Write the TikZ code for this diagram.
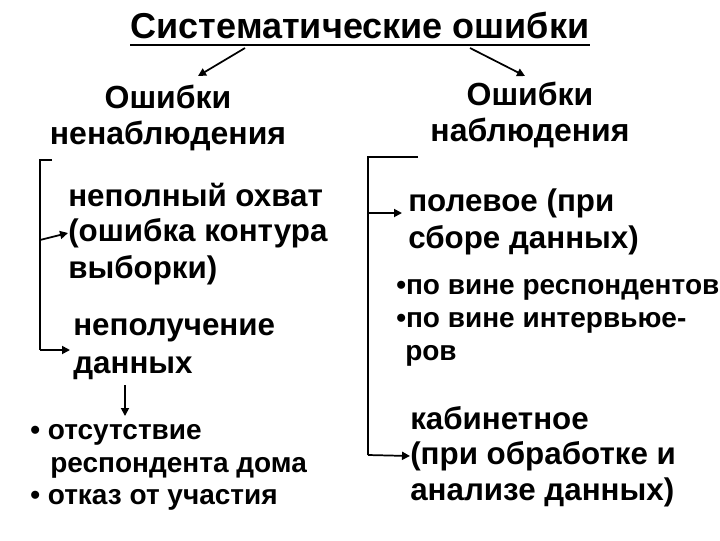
\documentclass[tikz,border=0pt]{standalone}
\usepackage{fontspec}
\setmainfont{Liberation Sans}
\usetikzlibrary{arrows.meta}
\begin{document}
\begin{tikzpicture}[x=0.75pt,y=-0.75pt,
  txt/.style={anchor=west,inner sep=0pt,font=\fontsize{23.5}{37}\selectfont\bfseries},
  sm/.style={anchor=west,inner sep=0pt,font=\fontsize{21}{25}\selectfont\bfseries},
  head/.style={align=center,inner sep=0pt,font=\fontsize{24}{27}\selectfont\bfseries},
  ln/.style={line width=1.3pt},
  arr/.style={ln,-{Triangle[length=6pt,width=6pt]}}]
\useasboundingbox (0,0) rectangle (720,540);
\node[inner sep=0pt,font=\fontsize{27}{26}\selectfont\bfseries] (title) at (360,25) {Систематические ошибки};
\coordinate (ul1) at (130,45); \coordinate (ul2) at (590,45);
\draw[ln] (ul1) -- (ul2);
\node[head] (nn) at (168,118) {Ошибки\\ненаблюдения};
\node[head] (n) at (530,115) {Ошибки\\наблюдения};
\coordinate (t1) at (245,48); \coordinate (t1e) at (198,76);
\coordinate (t2) at (470,48); \coordinate (t2e) at (525,76);
\draw[arr] (t1) -- (t1e);
\draw[arr] (t2) -- (t2e);
% left
\coordinate (l0) at (52,160); \coordinate (l1) at (40,160);
\coordinate (l2) at (40,240); \coordinate (l3) at (40,350);
\node[txt] (a1) at (68,195) {неполный охват};
\node[txt] (a2) at (68,233) {(ошибка контура};
\node[txt] (a3) at (68,270) {выборки)};
\node[txt] (b1) at (73,330) {неполучение};
\node[txt] (b2) at (73,368) {данных};
\draw[ln] (l0) -- (l1) -- (l3);
\draw[arr] (l2) -- (a2.west);
\draw[arr] (l3) -- (70,350);
\coordinate (d1) at (125,385); \coordinate (d2) at (125,416);
\draw[arr] (d1) -- (d2);
\node[sm] (c1) at (30,435) {• отсутствие};
\node[sm] (c2) at (50,468) {респондента дома};
\node[sm] (c3) at (30,500) {• отказ от участия};
% right
\coordinate (r0) at (418,157); \coordinate (r1) at (368,157);
\coordinate (r2) at (368,213); \coordinate (r3) at (368,455);
\node[txt] (p1) at (408,203) {полевое (при};
\node[txt] (p2) at (408,240) {сборе данных)};
\node[sm] (q1) at (396,290) {•по вине респондентов};
\node[sm] (q2) at (396,323) {•по вине интервьюе-};
\node[sm] (q3) at (405,356) {ров};
\node[txt] (k1) at (410,418) {кабинетное};
\node[txt] (k2) at (410,456) {(при обработке и};
\node[txt] (k3) at (410,492) {анализе данных)};
\draw[ln] (r0) -- (r1) -- (r3);
\draw[arr] (r2) -- (402,213);
\draw[arr] (r3) -- (k2.west);
\end{tikzpicture}
\end{document}
